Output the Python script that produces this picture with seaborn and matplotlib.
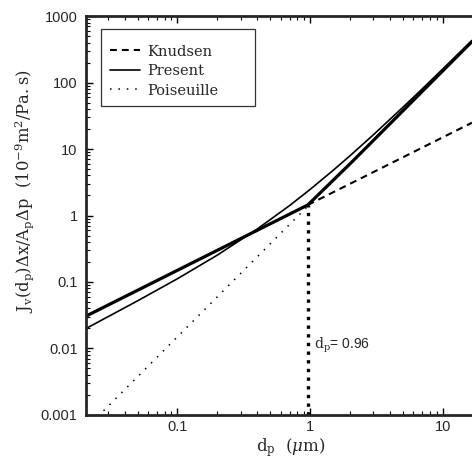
import numpy as np
import pandas as pd
import matplotlib
matplotlib.use("Agg")
import matplotlib.pyplot as plt
import seaborn as sns

# ---- data ----
d_knudsen = [0.02, 0.96, 16.6]
j_knudsen = [0.030, 1.44, 24.9]

d_pois = [0.025, 0.1, 0.3, 0.6, 0.96]
j_pois = [0.00094, 0.015, 0.135, 0.54, 1.38]

d_present_thin = [0.02, 0.05, 0.1, 0.2, 0.4, 0.7, 1.0, 1.5, 2.0, 3.0, 5.0, 7.0, 10.0, 16.6]
j_present_thin = [0.0195, 0.052, 0.112, 0.254, 0.628, 1.41, 2.47, 4.83, 7.94, 16.4, 42.4, 80.3, 160.0, 430.0]

d_present_thick = [0.02, 0.1, 0.5, 0.96, 2.0, 5.0, 10.0, 16.6]
j_present_thick = [0.030, 0.15, 0.75, 1.44, 6.0, 37.5, 150.0, 413.0]

d_cut = [0.96, 0.96]
j_cut = [0.001, 1.44]
cut_label = "0.96"

xlim = (0.0204, 16.6)
ylim = (0.001, 1000)

sns.set_style("ticks")
plt.rcParams["font.family"] = ["DejaVu Serif"]
plt.rcParams["mathtext.fontset"] = "dejavuserif"

fig = plt.figure(figsize=(4.72, 4.59), dpi=100)
ax = fig.add_axes([0.182, 0.096, 0.818, 0.869])

sns.lineplot(x=d_knudsen, y=j_knudsen, ax=ax, color="black", lw=1.5,
             linestyle=(0, (3.3, 2.4)), label="Knudsen", estimator=None)
sns.lineplot(x=d_present_thick, y=j_present_thick, ax=ax, color="black", lw=2.3,
             estimator=None)
sns.lineplot(x=d_present_thin, y=j_present_thin, ax=ax, color="black", lw=1.2,
             label="Present", estimator=None)
sns.lineplot(x=d_pois, y=j_pois, ax=ax, color="black", lw=1.1,
             linestyle=(0, (1, 4.5)), label="Poiseuille", estimator=None)
sns.lineplot(x=d_cut, y=j_cut, ax=ax, color="black", lw=2.4,
             linestyle=(0, (1, 1.6)), estimator=None, sort=False)

ax.set_xscale("log")
ax.set_yscale("log")
ax.set_xlim(*xlim)
ax.set_ylim(*ylim)

ax.spines["right"].set_visible(False)
for s in ["left", "bottom", "top"]:
    ax.spines[s].set_linewidth(2.0)

ax.tick_params(which="both", direction="in", top=True, right=False, color="black")
ax.tick_params(which="major", length=5, width=1.0)
ax.tick_params(which="minor", length=3, width=0.8)

ax.set_xticks([0.1, 1, 10])
ax.set_xticklabels(["0.1", "1", "10"], family="Liberation Sans", fontsize=10.5)
yt = [0.001, 0.01, 0.1, 1, 10, 100, 1000]
ax.set_yticks(yt)
ax.set_yticklabels(["0.001", "0.01", "0.1", "1", "10", "100", "1000"],
                   family="Liberation Sans", fontsize=10.5)
ax.xaxis.set_minor_locator(matplotlib.ticker.LogLocator(base=10, subs=np.arange(2, 10)))
ax.yaxis.set_minor_locator(matplotlib.ticker.LogLocator(base=10, subs=np.arange(2, 10)))
ax.xaxis.set_minor_formatter(matplotlib.ticker.NullFormatter())
ax.yaxis.set_minor_formatter(matplotlib.ticker.NullFormatter())
ax.tick_params(axis="x", pad=4)
ax.tick_params(axis="y", pad=6)

ax.set_xlabel(r"$\mathrm{d_p}$  ($\mu$m)", fontsize=12)
ax.xaxis.set_label_coords(0.531, -0.053)
ax.set_ylabel(r"$\mathrm{J_v(d_p)\Delta x/A_p\Delta p}$  ($\mathrm{10^{-9}m^2/Pa.s}$)",
              fontsize=11.8)
ax.yaxis.set_label_coords(-0.13, 0.561)

ax.text(1.07, 0.011, r"$\mathrm{d_p}$= " + cut_label, family="Liberation Sans",
        fontsize=10, ha="left", va="center")

handles, labels = ax.get_legend_handles_labels()
order = ["Knudsen", "Present", "Poiseuille"]
hmap = dict(zip(labels, handles))
leg = ax.legend([hmap[k] for k in order], order, loc="upper left",
                bbox_to_anchor=(0.039, 0.777, 0.399, 0.19), mode="expand",
                frameon=True, fancybox=False,
                edgecolor="black", fontsize=10.5, handlelength=2.1,
                handletextpad=0.5, borderpad=0.6, borderaxespad=0.0,
                labelspacing=0.38, title=" ", title_fontsize=1)
leg.get_frame().set_linewidth(0.9)

fig.savefig("out.png", dpi=100)
